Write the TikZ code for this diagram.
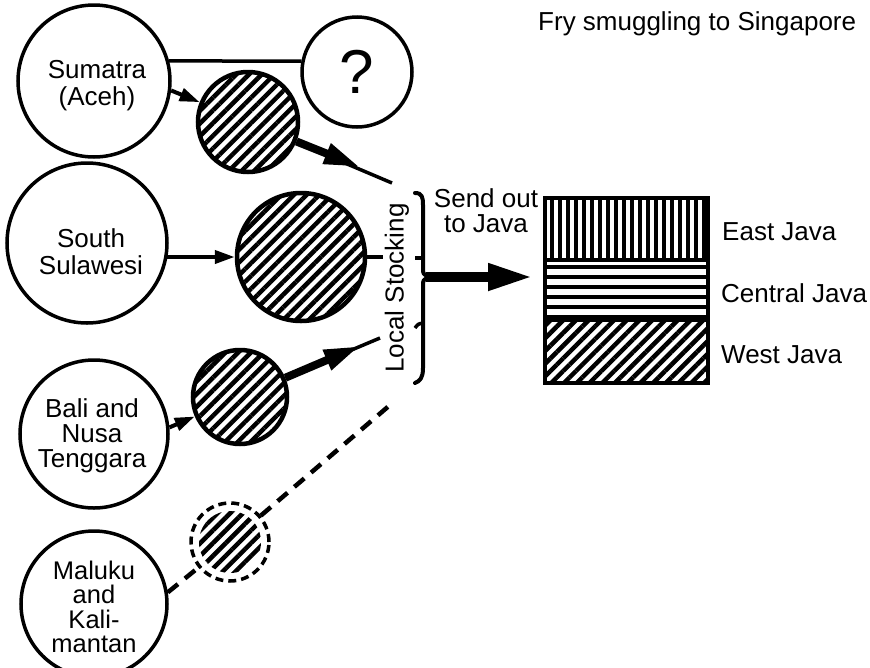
\documentclass[tikz,border=0pt]{standalone}
\usepackage{fontspec}
\setmainfont{Liberation Sans}
\usetikzlibrary{arrows.meta,patterns.meta}
\begin{document}
\begin{tikzpicture}[x=1pt,y=-1pt,
  lbl/.style={font=\fontsize{26}{27}\selectfont, align=center, inner sep=0pt},
  region/.style={circle, draw, line width=3.5pt, minimum size=#1, inner sep=0pt},
  stock/.style={circle, draw, line width=4.5pt, minimum size=#1, inner sep=0pt,
    pattern={Lines[angle=45,distance=9pt,line width=4.5pt]}},
  feed/.style={line width=4pt, -{Triangle[length=20pt,width=13pt]}},
  ship/.style={line width=8pt, -{Triangle[length=36pt,width=20pt]}},
  thinline/.style={line width=3.5pt},
  dashline/.style={line width=4.5pt, dash pattern=on 13pt off 9pt},
  band/.style={rectangle, draw, line width=4.5pt, minimum width=163pt, inner sep=0pt},
]
\useasboundingbox (0,0) rectangle (870,667);

% source regions
\node[region=152pt] (sum) at (94,81) {};
\node[lbl] (sumt) at (97,86) {Sumatra\\(Aceh)};
\node[region=110pt, font=\fontsize{62}{62}\selectfont, inner sep=0pt] (q) at (357,72) {?};
\node[region=160pt] (ss) at (87,243) {};
\node[lbl] (sst) at (91,252) {South\\Sulawesi};
\node[region=148pt] (bali) at (94,434) {};
\node[lbl, font=\fontsize{26}{25}\selectfont] (balit) at (92,436) {Bali and\\Nusa\\Tenggara};
\node[region=146pt] (mal) at (94,604) {};
\node[lbl, font=\fontsize{25.5}{24.5}\selectfont] (malt) at (94,607) {Maluku\\and\\Kali-\\mantan};

% stocking circles
\node[stock=100pt] (c1) at (248,122) {};
\node[stock=128pt] (c2) at (301,257) {};
\node[stock=94pt] (c3) at (240,397) {};
\node[circle, draw, line width=3.5pt, dash pattern=on 8pt off 5pt, minimum size=78pt, inner sep=0pt] (c4) at (230,542) {};
\begin{scope}
  \clip (230,542) circle (31);
  \fill[pattern={Lines[angle=45,distance=9pt,line width=4.5pt]}] (195,507) rectangle (265,577);
\end{scope}

% coordinates
\coordinate (t1) at (360,167);
\coordinate (t1end) at (392,183);
\coordinate (t3) at (360,346);
\coordinate (t3end) at (380,338);
\coordinate (lsin) at (383,257);
\coordinate (dend) at (390,405);
\coordinate (bt) at (426,277);
\coordinate (bigend) at (533,277);

% connectors
\draw[thinline] (sum.15) -- (q.169);
\draw[feed] (sum.-7) -- (c1);
\draw[thinline] (c1) -- (t1end);
\draw[ship] (c1) -- (t1);
\draw[feed] ([xshift=-3pt]ss.east |- c2.west) -- (c2.west);
\draw[thinline] (c2.east) -- (lsin);
\draw[feed] (bali.5) -- (c3);
\draw[thinline] (c3) -- (t3end);
\draw[ship] (c3) -- (t3);
\draw[dashline] (mal.9) -- (c4);
\draw[dashline] (c4) -- (dend);

% brace
\draw[line width=4pt, line cap=round]
  (415,193) .. controls (422,193) and (423,197) .. (423,205)
  -- (423,268) .. controls (423,274) .. (429,277)
  .. controls (423,280) .. (423,286)
  -- (423,368) .. controls (423,378) and (420,381) .. (415,383);
\draw[line width=3.5pt] (415,258) -- (423,258);
\draw[line width=3.5pt] (415,328) .. controls (418,324) .. (423,323);
\node[lbl, rotate=90] (ls) at (397,288) {Local Stocking};

% send out arrow
\draw[line width=10pt, -{Triangle[length=45pt,width=25pt]}] (bt) -- (bigend);
\node[lbl, font=\fontsize{26}{25}\selectfont] (send) at (486,211) {Send out\\to Java};

% Java box
\node[band, minimum height=62pt, pattern={Lines[angle=90,distance=8pt,line width=3.5pt]}] (ej) at (626.5,229) {};
\node[band, minimum height=60pt, pattern={Lines[angle=0,distance=10pt,line width=3.5pt]}] (cj) at (626.5,290) {};
\node[band, minimum height=63pt, pattern={Lines[angle=45,distance=9pt,line width=4.5pt]}] (wj) at (626.5,351.5) {};
\node[lbl, anchor=base west] (ejl) at (722,240) {East Java};
\node[lbl, anchor=base west] (cjl) at (721,302) {Central Java};
\node[lbl, anchor=base west] (wjl) at (721,363) {West Java};

\node[lbl, anchor=base west] (title) at (538,30) {Fry smuggling to Singapore};
\end{tikzpicture}
\end{document}
